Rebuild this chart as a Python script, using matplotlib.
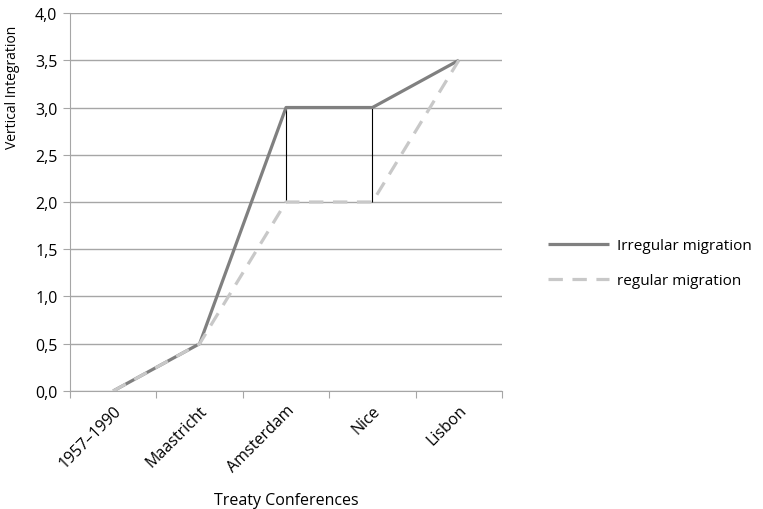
import numpy as np
import matplotlib.pyplot as plt
from matplotlib.ticker import FixedLocator, FuncFormatter

conferences = ['1957\u20131990', 'Maastricht', 'Amsterdam', 'Nice', 'Lisbon']
irregular = [0.0, 0.5, 3.0, 3.0, 3.5]
regular = [0.0, 0.5, 2.0, 2.0, 3.5]

plt.rcParams['font.family'] = ['Open Sans', 'DejaVu Sans']
fs = 11.5

fig = plt.figure(figsize=(7.63, 5.10), dpi=100)
ax = fig.add_axes([0.0917, 0.2314, 0.5663, 0.7411])

x = np.arange(len(conferences))

# high-low lines where the two series differ
for i in x:
    if irregular[i] != regular[i] and i not in (0, len(x) - 1):
        ax.vlines(i, regular[i], irregular[i], color='black', lw=0.8, zorder=3)

ax.plot(x, irregular, color='#808080', lw=2.3, label='Irregular migration',
        solid_capstyle='butt', zorder=4)
ax.plot(x, regular, color='#c8c8c8', lw=2.3, ls=(0, (4.5, 3)),
        label='regular migration', zorder=5)

ax.set_xlim(-0.5, len(x) - 0.5)
ax.set_ylim(0, 4)
ax.set_yticks(np.arange(0, 4.01, 0.5))
ax.yaxis.set_major_formatter(FuncFormatter(lambda v, p: f'{v:.1f}'.replace('.', ',')))
ax.yaxis.grid(True, color='#a6a6a6', lw=1.0)
ax.set_axisbelow(True)

ax.xaxis.set_major_locator(FixedLocator(np.arange(-0.5, len(x), 1.0)))
ax.xaxis.set_major_formatter(FuncFormatter(lambda v, p: ''))
ax.xaxis.set_minor_locator(FixedLocator(x))
ax.set_xticklabels(conferences, minor=True, rotation=45, ha='right',
                   rotation_mode='anchor', fontsize=fs)
ax.tick_params(axis='x', which='minor', length=0, pad=8)
ax.tick_params(axis='x', which='major', length=5, color='#a6a6a6')
ax.tick_params(axis='y', length=5, color='#a6a6a6', labelsize=fs, pad=4)

for s in ['top', 'right']:
    ax.spines[s].set_visible(False)
for s in ['left', 'bottom']:
    ax.spines[s].set_color('#a6a6a6')

ax.set_xlabel('Treaty Conferences', fontsize=fs, labelpad=12)
ax.set_ylabel('Vertical Integration', fontsize=10)
ax.yaxis.set_label_coords(-0.116, 0.805)

fig.legend(loc='center left', bbox_to_anchor=(0.7, 0.482), frameon=False,
           fontsize=11, handlelength=4.0, handletextpad=0.5, labelspacing=1.3)

fig.savefig('out.png', dpi=100)
